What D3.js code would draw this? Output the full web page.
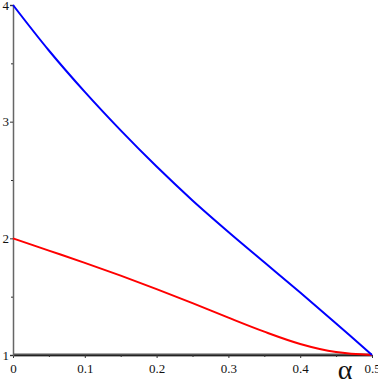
<!DOCTYPE html>
<html>
<head>
<meta charset="utf-8">
<script src="https://cdn.jsdelivr.net/npm/d3@7"></script>
<style>
  body { margin: 0; background: white; }
  svg { display: block; }
  text { font-family: "Liberation Serif", "DejaVu Serif", serif; }
</style>
</head>
<body>
<div id="chart"></div>
<script>
// valores
var alphas = [0, 0.05, 0.1, 0.15, 0.2, 0.25, 0.3, 0.35, 0.4, 0.45, 0.5];
var curva_azul = [4.0, 3.61, 3.255, 2.925, 2.615, 2.325, 2.055, 1.795, 1.535, 1.27, 1.0];
var curva_roja = [2.0, 1.895, 1.79, 1.68, 1.565, 1.445, 1.32, 1.20, 1.095, 1.025, 1.0];
var ticks_x = [0, 0.1, 0.2, 0.3, 0.4, 0.5];
var ticks_x_menor = [0.05, 0.15, 0.25, 0.35, 0.45];
var ticks_y = [1, 2, 3, 4];
var ticks_y_menor = [1.5, 2.5, 3.5];

var width = 378, height = 383;
var margin = {top: 5, right: 6, bottom: 28, left: 13};

var svg = d3.select("#chart").append("svg")
    .attr("width", width)
    .attr("height", height);

var xScale = d3.scaleLinear().domain([0, 0.5]).range([margin.left, width - margin.right]);
var yScale = d3.scaleLinear().domain([1, 4]).range([height - margin.bottom, margin.top]);

// linea horizontal y = 1
svg.append("line")
    .attr("x1", xScale(0)).attr("x2", xScale(0.5))
    .attr("y1", yScale(1)).attr("y2", yScale(1))
    .attr("stroke", "#555")
    .attr("stroke-width", 3);

// Eje X
var xAxis = d3.axisBottom(xScale).tickValues(ticks_x).tickSize(3).tickFormat(d3.format("~g"));
var xAxisG = svg.append("g")
    .attr("transform", "translate(0," + yScale(1) + ")")
    .call(xAxis);
xAxisG.select(".domain").attr("stroke", "#222").attr("stroke-width", 1);
xAxisG.selectAll(".tick line").attr("stroke", "#333");
xAxisG.selectAll(".tick text")
    .attr("y", 9)
    .style("font-size", "13px")
    .attr("fill", "#111");

svg.append("g")
    .attr("transform", "translate(0," + yScale(1) + ")")
    .call(d3.axisBottom(xScale).tickValues(ticks_x_menor).tickSize(2).tickFormat(""))
    .call(function(g) { g.select(".domain").remove(); g.selectAll("line").attr("stroke", "#333"); });

// Eje Y
var yAxis = d3.axisLeft(yScale).tickValues(ticks_y).tickSize(3).tickFormat(d3.format("d"));
var yAxisG = svg.append("g")
    .attr("transform", "translate(" + xScale(0) + ",0)")
    .call(yAxis);
yAxisG.select(".domain").attr("stroke", "#666").attr("stroke-width", 1.5);
yAxisG.selectAll(".tick line").attr("stroke", "#333");
yAxisG.selectAll(".tick text")
    .attr("x", -4)
    .style("font-size", "13px")
    .attr("fill", "#111");

svg.append("g")
    .attr("transform", "translate(" + xScale(0) + ",0)")
    .call(d3.axisLeft(yScale).tickValues(ticks_y_menor).tickSize(2).tickFormat(""))
    .call(function(g) { g.select(".domain").remove(); g.selectAll("line").attr("stroke", "#333"); });

// Curvas
var linea = function(valores) {
    return d3.line()
        .x(function(d, i) { return xScale(alphas[i]); })
        .y(function(d) { return yScale(d); })
        .curve(d3.curveCatmullRom.alpha(0.5))(valores);
};

svg.append("path")
    .attr("d", linea(curva_roja))
    .attr("fill", "none")
    .attr("stroke", "#ff0000")
    .attr("stroke-width", 2);

svg.append("path")
    .attr("d", linea(curva_azul))
    .attr("fill", "none")
    .attr("stroke", "#0000ff")
    .attr("stroke-width", 2);

// Etiqueta del eje X
svg.append("text")
    .attr("x", 345)
    .attr("y", 379)
    .attr("text-anchor", "middle")
    .style("font-size", "28px")
    .attr("fill", "#111")
    .text("α");
</script>
</body>
</html>
